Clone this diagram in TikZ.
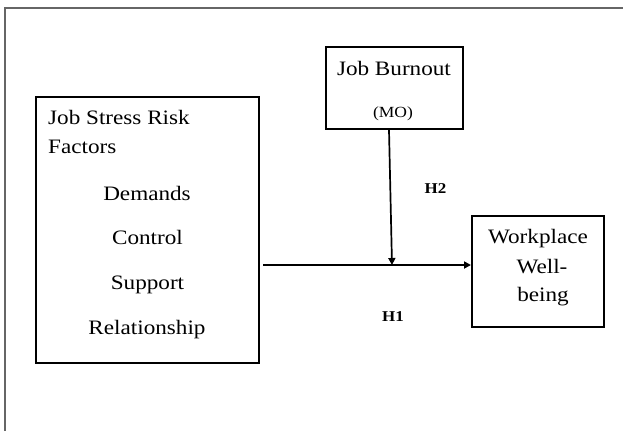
\documentclass[tikz,border=0pt]{standalone}
\usepackage{fontspec}
\setmainfont{Liberation Serif}[FakeStretch=1.13]
\usetikzlibrary{arrows.meta,calc}
\begin{document}
\begin{tikzpicture}[x=1pt,y=-1pt,
  boxnode/.style={draw,line width=2pt,inner sep=0pt},
  txt/.style={font=\fontsize{20.5}{24}\selectfont,inner sep=0pt,anchor=base},
  smalltxt/.style={font=\fontsize{15.5}{18}\selectfont,inner sep=0pt,anchor=base},
  hyp/.style={font=\fontsize{15}{18}\selectfont\bfseries,inner sep=0pt,anchor=base},
  conn/.style={line width=1.7pt,-{Triangle[length=7pt,width=7pt]}},
  frame/.style={draw=black!60,line width=1.6pt}]
\useasboundingbox (0,0) rectangle (623,431);
% outer frame
\draw[frame] (5,431) -- (5,8) -- (623,8);
% boxes
\node[boxnode,minimum width=223pt,minimum height=266pt] (stress) at (147.5,230) {};
\node[boxnode,minimum width=137pt,minimum height=82pt] (burn) at (394.5,88) {};
\node[boxnode,minimum width=132pt,minimum height=111pt] (well) at (538,271.5) {};
% stress texts
\node[txt,anchor=base west] (s1) at (48,124.3) {Job Stress Risk};
\node[txt,anchor=base west] (s2) at (48,153.3) {Factors};
\node[txt] (s3) at (147,200) {Demands};
\node[txt] (s4) at (147.5,244) {Control};
\node[txt] (s5) at (147.5,289) {Support};
\node[txt] (s6) at (147,334) {Relationship};
% burnout texts
\node[txt] (b1) at (394,75) {Job Burnout};
\node[smalltxt] (b2) at (393,117) {(MO)};
% wellbeing texts
\node[txt] (w1) at (538,243) {Workplace};
\node[txt] (w2) at (542,273) {Well-};
\node[txt] (w3) at (543,301) {being};
% hypothesis labels
\node[hyp] (h2) at (435.5,193) {H2};
\node[hyp] (h1) at (393,321) {H1};
% connectors
\coordinate (h1y) at (0,265);
\coordinate (h2x) at (389,0);
\coordinate (h2e) at (392,265);
\draw[conn] ($(stress.east |- h1y)+(3,0)$) -- (well.west |- h1y);
\draw[conn] (burn.south -| h2x) -- (h2e);
\end{tikzpicture}
\end{document}
